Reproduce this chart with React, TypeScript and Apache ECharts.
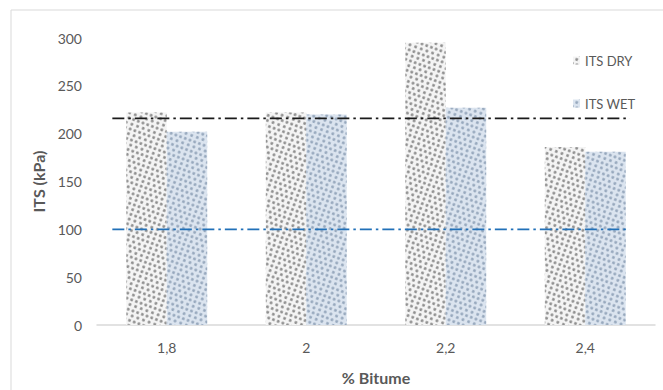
import React, { useEffect, useRef } from "react";
import * as echarts from "echarts";

const categories = ["1,8", "2", "2,2", "2,4"];
const itsDry = [222, 222, 295, 186];
const itsWet = [202, 220, 227, 181];
const yTicks = { min: 0, max: 300, interval: 50 };
const dryThreshold = 216;
const wetThreshold = 100;
// x extent of the two threshold lines, in category units (0..4)
const thresholdSpan = [0.11, 3.82];

const FONT = "Lato, 'Open Sans', sans-serif";
const TEXT = "#595959";

const dotDecal = (color: string, bg: string) => ({
  symbol: "circle",
  symbolSize: 1,
  color,
  backgroundColor: bg,
  dashArrayX: [
    [2.8, 2],
    [0, 2.4, 2.8, 0],
  ],
  dashArrayY: [2.8, 1.2],
  rotation: 0.35,
});

export default function App() {
  const ref = useRef<HTMLDivElement>(null);

  useEffect(() => {
    if (!ref.current) return;
    const chart = echarts.init(ref.current, null, { renderer: "svg" });
    chart.setOption({
      animation: false,
      backgroundColor: "#ffffff",
      textStyle: { fontFamily: FONT },
      graphic: [
        {
          type: "rect",
          shape: { x: 11, y: 10, width: 670, height: 400 },
          style: { fill: "none", stroke: "#d9d9d9", lineWidth: 1 },
          silent: true,
          z: -10,
        },
      ],
      legend: {
        orient: "vertical",
        left: 568,
        top: 49,
        itemWidth: 7,
        itemHeight: 8,
        itemGap: 30,
        icon: "rect",
        textStyle: { color: TEXT, fontSize: 13, fontFamily: FONT },
        data: ["ITS DRY", "ITS WET"],
      },
      grid: { left: 97, right: 8, top: 38, bottom: 65 },
      xAxis: [
        {
          type: "category",
          data: categories,
          axisLine: { lineStyle: { color: "#d9d9d9", width: 1.5 } },
          axisTick: { show: false },
          axisLabel: { color: TEXT, fontSize: 14, margin: 15, fontFamily: FONT },
          name: "% Bitume",
          nameLocation: "middle",
          nameGap: 44,
          nameTextStyle: { color: TEXT, fontSize: 16, fontWeight: "bold", fontFamily: FONT },
        },
        {
          type: "value",
          min: 0,
          max: 4,
          show: false,
        },
      ],
      yAxis: {
        type: "value",
        min: yTicks.min,
        max: yTicks.max,
        interval: yTicks.interval,
        axisLine: { show: false },
        axisTick: { show: false },
        splitLine: { show: false },
        axisLabel: { color: TEXT, fontSize: 14, margin: 15, fontFamily: FONT },
        name: "ITS (kPa)",
        nameLocation: "middle",
        nameRotate: 90,
        nameGap: 50,
        nameTextStyle: { color: TEXT, fontSize: 16, fontWeight: "bold", fontFamily: FONT },
      },
      series: [
        {
          name: "ITS DRY",
          type: "bar",
          data: itsDry,
          barGap: "0%",
          barCategoryGap: "42%",
          itemStyle: {
            color: "#f4f4f4",
            decal: dotDecal("#8f8f8f", "#f6f6f6"),
          },
        },
        {
          name: "ITS WET",
          type: "bar",
          data: itsWet,
          barGap: "0%",
          barCategoryGap: "42%",
          itemStyle: {
            color: "#dbe4ef",
            decal: dotDecal("#97a8bd", "#dbe4ef"),
          },
        },
        {
          name: "dry threshold",
          type: "line",
          xAxisIndex: 1,
          data: thresholdSpan.map((x) => [x, dryThreshold]),
          symbol: "none",
          lineStyle: { color: "#1a1a1a", width: 1.6, type: [12, 4, 2.5, 4] },
          z: 5,
          silent: true,
        },
        {
          name: "wet threshold",
          type: "line",
          xAxisIndex: 1,
          data: thresholdSpan.map((x) => [x, wetThreshold]),
          symbol: "none",
          lineStyle: { color: "#2170b8", width: 1.6, type: [12, 4, 2.5, 4] },
          z: 5,
          silent: true,
        },
      ],
    });
    return () => chart.dispose();
  }, []);

  return (
    <div
      ref={ref}
      style={{ position: "fixed", left: 0, top: 0, width: 663, height: 390 }}
    />
  );
}
